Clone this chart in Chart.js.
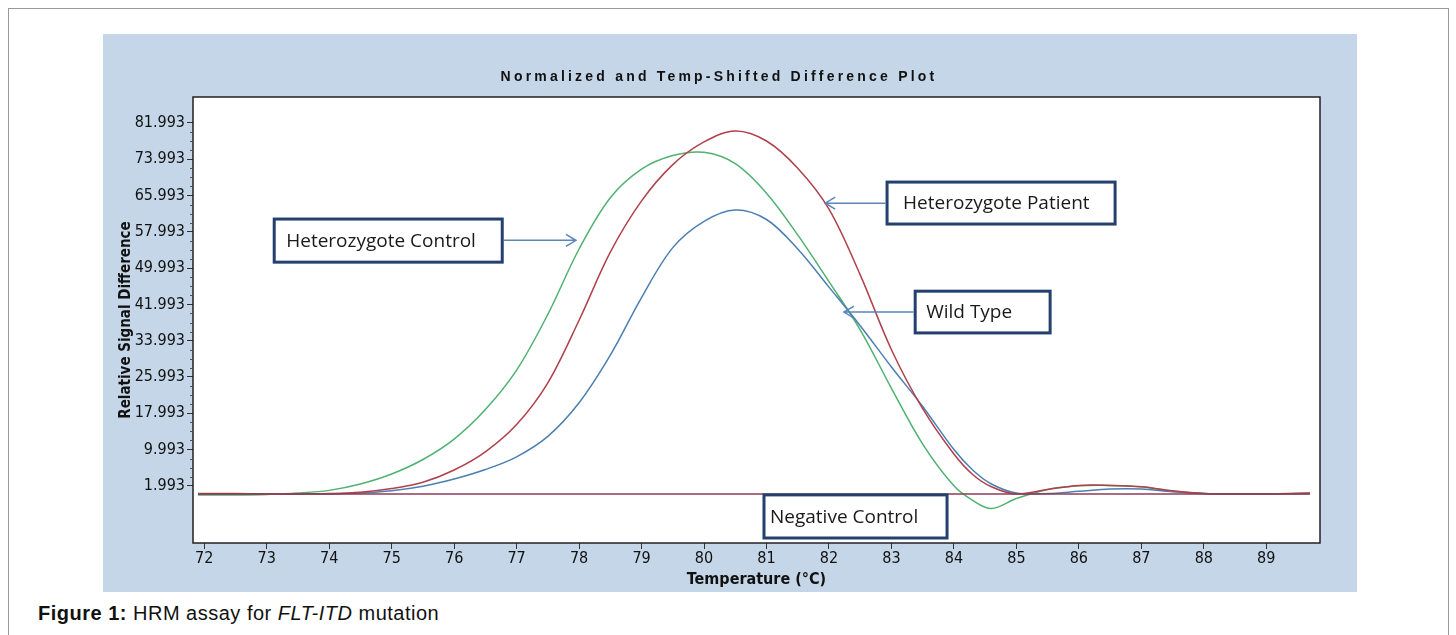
<!DOCTYPE html>
<html>
<head>
<meta charset="utf-8">
<script src="https://cdn.jsdelivr.net/npm/chart.js@4.4.1/dist/chart.umd.min.js"></script>
<style>
  html, body { margin: 0; padding: 0; background: #fff; width: 1456px; height: 635px; overflow: hidden; }
  .frame { position: absolute; left: 8px; top: 8px; width: 1439px; height: 640px; border: 1px solid #9a9a9a; }
  .panel { position: absolute; left: 103px; top: 34px; width: 1254px; height: 558px; background: #c4d6e7; }
  .caption { position: absolute; left: 38px; top: 602px; font: 20px "Liberation Sans", Arial, sans-serif; letter-spacing: 0.5px; color: #111; }
</style>
</head>
<body>
<div class="frame"></div>
<div class="panel"><canvas id="hrmChart" width="1254" height="558"></canvas></div>
<div class="caption"><b>Figure 1:</b> HRM assay for <i>FLT-ITD</i> mutation</div>

<script>
// Melt curve data (temperature in °C)
const temps = [71.9, 72.5, 73, 73.5, 74, 74.5, 75, 75.5, 76, 76.5, 77, 77.5, 78, 78.5, 79, 79.5, 80, 80.5,
    81, 81.5, 82, 82.5, 83, 83.5, 84, 84.3, 84.6, 85, 85.5, 86, 86.5, 87, 87.5, 88, 88.5, 89, 89.7];

const hetControl = [0.0, 0.0, 0.1, 0.4, 1.0, 2.4, 4.6, 7.8, 12.3, 18.8, 27.5, 39.8, 54.2, 65.5, 71.8, 74.8, 75.5, 73.0,
    66.5, 57.3, 47.0, 36.4, 23.5, 11.2, 2.0, -1.2, -3.0, -0.8, 1.2, 2.0, 2.1, 1.8, 0.8, 0.3, 0.2, 0.2, 0.3];

const hetPatient = [0.3, 0.3, 0.2, 0.2, 0.3, 0.6, 1.4, 2.8, 5.5, 9.5, 15.5, 24.7, 38.5, 53.5, 64.8, 72.8, 77.8, 80.2,
    78.0, 72.0, 63.0, 48.5, 32.0, 19.0, 9.0, 4.5, 1.8, 0.2, 1.2, 2.1, 2.1, 1.8, 0.9, 0.3, 0.2, 0.2, 0.4];

const wildType = [0.2, 0.2, 0.2, 0.2, 0.2, 0.4, 0.9, 1.9, 3.5, 5.6, 8.4, 12.9, 20.3, 30.8, 43.5, 54.5, 60.3, 62.8,
    60.7, 54.2, 45.8, 37.3, 28.2, 19.5, 10.0, 5.5, 2.4, 0.4, 0.3, 0.8, 1.3, 1.3, 0.7, 0.3, 0.2, 0.2, 0.3];

const negControl = [0.2, 0.2, 0.2, 0.2, 0.2, 0.2, 0.2, 0.2, 0.2, 0.2, 0.2, 0.2, 0.2, 0.2, 0.2, 0.2, 0.2, 0.2,
    0.2, 0.2, 0.2, 0.2, 0.2, 0.2, 0.2, 0.2, 0.2, 0.2, 0.2, 0.2, 0.2, 0.2, 0.2, 0.2, 0.2, 0.2, 0.2];

// Tick labels
const xTicks = [72, 73, 74, 75, 76, 77, 78, 79, 80, 81, 82, 83, 84, 85, 86, 87, 88, 89];
const yTicks = [1.993, 9.993, 17.993, 25.993, 33.993, 41.993, 49.993, 57.993, 65.993, 73.993, 81.993];

const NARROW = '"Liberation Sans Narrow", "Arial Narrow", "DejaVu Sans Condensed", sans-serif';

// Callout boxes (data coordinates)
const notes = [
    { text: 'Heterozygote Control', x0: 73.12, x1: 76.77, y0: 60.8, y1: 51.3, pad: 12, from: 'right', tip: [77.95, 56.1] },
    { text: 'Heterozygote Patient', x0: 82.93, x1: 86.58, y0: 68.95, y1: 59.7, pad: 16, from: 'left', tip: [81.94, 64.3] },
    { text: 'Wild Type', x0: 83.38, x1: 85.54, y0: 44.9, y1: 35.7, pad: 11, from: 'left', tip: [82.24, 40.3] },
    { text: 'Negative Control', x0: 80.96, x1: 83.89, y0: 0.0, y1: -9.5, pad: 6, from: null, tip: null }
];

function series(values) {
    return temps.map((t, i) => ({ x: t, y: values[i] }));
}

const plotFrame = {
    id: 'plotFrame',
    beforeDraw(chart) {
        const { ctx, chartArea: a } = chart;
        ctx.save();
        ctx.fillStyle = '#ffffff';
        ctx.fillRect(a.left, a.top, a.right - a.left, a.bottom - a.top);
        ctx.restore();
    },
    afterDraw(chart) {
        const { ctx, chartArea: a, scales } = chart;
        const xs = scales.x, ys = scales.y;
        ctx.save();

        // plot border
        ctx.strokeStyle = '#222';
        ctx.lineWidth = 1.5;
        ctx.strokeRect(a.left, a.top, a.right - a.left, a.bottom - a.top);

        // minor y ticks
        ctx.strokeStyle = '#555';
        ctx.lineWidth = 1;
        for (let i = 0; i < yTicks.length - 1; i++) {
            const step = (yTicks[i + 1] - yTicks[i]) / 4;
            for (let k = 1; k < 4; k++) {
                const py = Math.round(ys.getPixelForValue(yTicks[i] + k * step)) + 0.5;
                ctx.beginPath();
                ctx.moveTo(a.left - 3, py);
                ctx.lineTo(a.left, py);
                ctx.stroke();
            }
        }

        // title
        ctx.fillStyle = '#111';
        ctx.font = 'bold 14px "Liberation Sans", Arial, sans-serif';
        ctx.letterSpacing = '3.2px';
        ctx.textAlign = 'center';
        ctx.textBaseline = 'middle';
        ctx.fillText('Normalized and Temp-Shifted Difference Plot', 616, 43);
        ctx.letterSpacing = '0px';

        // callouts
        notes.forEach(n => {
            const l = xs.getPixelForValue(n.x0), r = xs.getPixelForValue(n.x1);
            const t = ys.getPixelForValue(n.y0), b = ys.getPixelForValue(n.y1);
            ctx.fillStyle = '#ffffff';
            ctx.fillRect(l, t, r - l, b - t);
            ctx.strokeStyle = '#24406e';
            ctx.lineWidth = 3;
            ctx.strokeRect(l, t, r - l, b - t);
            ctx.fillStyle = '#1a1a1a';
            ctx.font = '19px "Open Sans", Lato, sans-serif';
            ctx.textAlign = 'left';
            ctx.textBaseline = 'middle';
            ctx.fillText(n.text, l + n.pad, (t + b) / 2 + 1);

            if (n.tip) {
                const tx = xs.getPixelForValue(n.tip[0]), ty = ys.getPixelForValue(n.tip[1]);
                const sx = n.from === 'right' ? r + 1.5 : l - 1.5;
                const dir = tx > sx ? -1 : 1;
                ctx.strokeStyle = '#5b86b8';
                ctx.lineWidth = 1.5;
                ctx.beginPath();
                ctx.moveTo(sx, ty);
                ctx.lineTo(tx, ty);
                ctx.moveTo(tx + dir * 10, ty - 6);
                ctx.lineTo(tx, ty);
                ctx.lineTo(tx + dir * 10, ty + 6);
                ctx.stroke();
            }
        });
        ctx.restore();
    }
};

const lineStyle = { pointRadius: 0, borderWidth: 1.5, tension: 0.35, fill: false };

const chart = new Chart(document.getElementById('hrmChart'), {
    type: 'line',
    data: {
        datasets: [
            { label: 'Negative Control', data: series(negControl), borderColor: '#8c3d55', ...lineStyle },
            { label: 'Heterozygote Patient', data: series(hetPatient), borderColor: '#b0404a', ...lineStyle },
            { label: 'Wild Type', data: series(wildType), borderColor: '#4c7fb0', ...lineStyle },
            { label: 'Heterozygote Control', data: series(hetControl), borderColor: '#4fb270', ...lineStyle }
        ]
    },
    options: {
        responsive: false,
        animation: false,
        devicePixelRatio: 1,
        layout: { padding: { top: 63, right: 37, left: 0, bottom: 0 } },
        plugins: {
            legend: { display: false },
            tooltip: { enabled: false }
        },
        scales: {
            x: {
                type: 'linear',
                min: 71.82,
                max: 89.86,
                afterBuildTicks: scale => { scale.ticks = xTicks.map(v => ({ value: v })); },
                afterFit: scale => { scale.height = 49; },
                border: { display: false },
                grid: { drawOnChartArea: false, tickLength: 6, color: '#333' },
                ticks: {
                    color: '#111',
                    padding: 0,
                    maxRotation: 0,
                    autoSkip: false,
                    font: { family: NARROW, size: 16 },
                    callback: v => String(v)
                },
                title: {
                    display: true,
                    text: 'Temperature (°C)',
                    color: '#111',
                    padding: { top: 0, bottom: 3 },
                    font: { family: NARROW, size: 16, weight: 'bold' }
                }
            },
            y: {
                min: -10.6,
                max: 87.7,
                afterBuildTicks: scale => { scale.ticks = yTicks.map(v => ({ value: v })); },
                afterFit: scale => { scale.width = 90; },
                border: { display: false },
                grid: { drawOnChartArea: false, tickLength: 6, color: '#333' },
                ticks: {
                    color: '#111',
                    padding: 2,
                    font: { family: NARROW, size: 16 },
                    callback: v => Number(v).toFixed(3)
                },
                title: {
                    display: true,
                    text: 'Relative Signal Difference',
                    color: '#111',
                    padding: { top: 14, bottom: 0 },
                    font: { family: NARROW, size: 15, weight: 'bold' }
                }
            }
        }
    },
    plugins: [plotFrame]
});
</script>
</body>
</html>
